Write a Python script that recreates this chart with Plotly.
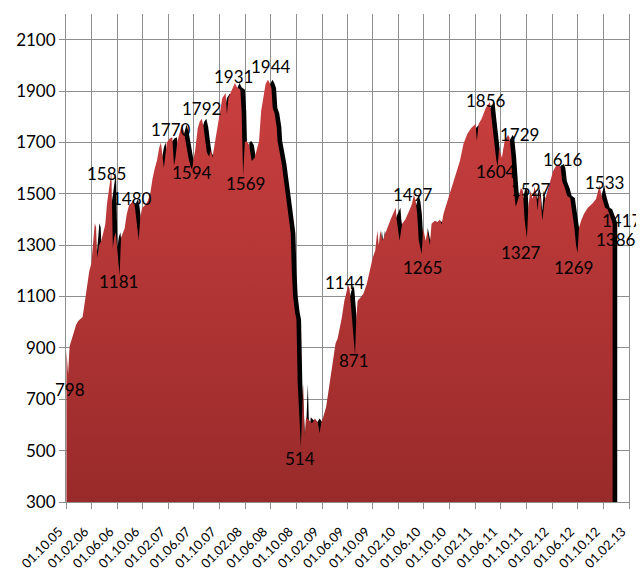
import plotly.graph_objects as go
import pandas as pd

# ---- data ----
dates = [
    "2005-10-03", "2005-10-11", "2005-10-18", "2005-10-28", "2005-11-08", "2005-11-18", "2005-11-28",
    "2005-12-08", "2005-12-19", "2005-12-28", "2006-01-10", "2006-01-20", "2006-01-30", "2006-02-07",
    "2006-02-15", "2006-02-21", "2006-02-27", "2006-03-07", "2006-03-17", "2006-03-28", "2006-04-06",
    "2006-04-14", "2006-04-24", "2006-05-05", "2006-05-12", "2006-05-18", "2006-05-26", "2006-06-06",
    "2006-06-13", "2006-06-20", "2006-06-28", "2006-07-07", "2006-07-17", "2006-07-28", "2006-08-09",
    "2006-08-18", "2006-08-25", "2006-09-05", "2006-09-12", "2006-09-20", "2006-09-28", "2006-10-12",
    "2006-10-24", "2006-11-06", "2006-11-17", "2006-11-28",
    "2006-12-08", "2006-12-19", "2006-12-27", "2007-01-10", "2007-01-16", "2007-01-24", "2007-02-07",
    "2007-02-19", "2007-02-27", "2007-03-06", "2007-03-15", "2007-03-28", "2007-04-06", "2007-04-16",
    "2007-04-26", "2007-05-07", "2007-05-16", "2007-05-24", "2007-06-01", "2007-06-08", "2007-06-20",
    "2007-06-29", "2007-07-09", "2007-07-18", "2007-07-27", "2007-08-03", "2007-08-13", "2007-08-22",
    "2007-08-29", "2007-09-10", "2007-09-20", "2007-10-03", "2007-10-15", "2007-10-31", "2007-11-06",
    "2007-11-13", "2007-11-26", "2007-12-06", "2007-12-14", "2007-12-24", "2008-01-09", "2008-01-15",
    "2008-01-22", "2008-01-30", "2008-02-08", "2008-02-20", "2008-03-03", "2008-03-17", "2008-03-28",
    "2008-04-07", "2008-04-17", "2008-04-29", "2008-05-08", "2008-05-19", "2008-05-28", "2008-06-05",
    "2008-06-11", "2008-06-20", "2008-06-30", "2008-07-04", "2008-07-24", "2008-08-08", "2008-08-20",
    "2008-09-05", "2008-09-10", "2008-09-16", "2008-09-25", "2008-10-02", "2008-10-08", "2008-10-16",
    "2008-10-23", "2008-11-03", "2008-11-10", "2008-11-17", "2008-12-01", "2008-12-15", "2008-12-29",
    "2009-01-12", "2009-01-20", "2009-01-28", "2009-02-06", "2009-02-20", "2009-03-02", "2009-03-13",
    "2009-03-23", "2009-04-06", "2009-04-16", "2009-05-06", "2009-05-18", "2009-05-29", "2009-06-05",
    "2009-06-12", "2009-06-19", "2009-06-30", "2009-07-08", "2009-07-13", "2009-07-20", "2009-08-03",
    "2009-08-17", "2009-09-02", "2009-09-16", "2009-09-30", "2009-10-12", "2009-10-22", "2009-10-29",
    "2009-11-05", "2009-11-16", "2009-12-08", "2009-12-24", "2010-01-05", "2010-01-18", "2010-01-22",
    "2010-02-05", "2010-02-17", "2010-03-04", "2010-03-26", "2010-04-05", "2010-04-14", "2010-04-23",
    "2010-04-30", "2010-05-07", "2010-05-21", "2010-05-28", "2010-06-09", "2010-06-18", "2010-06-29",
    "2010-07-07", "2010-07-23", "2010-08-05", "2010-08-16", "2010-08-24", "2010-09-02", "2010-09-22",
    "2010-10-12", "2010-10-26", "2010-11-19", "2010-12-06", "2010-12-24", "2011-01-12", "2011-02-01",
    "2011-02-08", "2011-02-16", "2011-03-02", "2011-03-22", "2011-04-04", "2011-04-11", "2011-04-18",
    "2011-04-28", "2011-05-10", "2011-05-17", "2011-05-25", "2011-06-07", "2011-06-20", "2011-07-06",
    "2011-07-13", "2011-07-22", "2011-08-03", "2011-08-12", "2011-08-24", "2011-09-05", "2011-09-15",
    "2011-09-23", "2011-10-04", "2011-10-11", "2011-10-20", "2011-11-01", "2011-11-08", "2011-11-17",
    "2011-11-24", "2011-12-01", "2011-12-09", "2011-12-16", "2011-12-27", "2012-01-10", "2012-01-24",
    "2012-02-06", "2012-02-20", "2012-03-06", "2012-03-13", "2012-03-20", "2012-04-03", "2012-04-12",
    "2012-04-27", "2012-05-08", "2012-05-17", "2012-05-25", "2012-06-01", "2012-06-08", "2012-06-20",
    "2012-07-02", "2012-07-20", "2012-08-10", "2012-08-28", "2012-09-14", "2012-09-21", "2012-10-01",
    "2012-10-10", "2012-10-22", "2012-11-01", "2012-11-15",
]
values = [
    890, 798, 905, 930, 960, 990, 1005,
    1012, 1020, 1070, 1150, 1200, 1230, 1320,
    1385, 1370, 1250, 1300, 1315, 1350, 1380,
    1460, 1530, 1585, 1290, 1330, 1350, 1240,
    1181, 1330, 1350, 1365, 1420, 1455, 1465,
    1480, 1450, 1380, 1320, 1410, 1445, 1455,
    1470, 1500, 1560, 1600,
    1630, 1680, 1700, 1600, 1650, 1700, 1715,
    1720, 1610, 1640, 1705, 1740, 1770, 1740,
    1690, 1640, 1610, 1594, 1640, 1670, 1755,
    1780, 1792, 1760, 1700, 1660, 1645, 1670,
    1640, 1700, 1756, 1822, 1873, 1892, 1810,
    1873, 1900, 1915, 1931, 1915, 1905, 1820,
    1569, 1700, 1706, 1690, 1628, 1640, 1680,
    1706, 1822, 1880, 1927, 1944, 1930, 1911,
    1834, 1814, 1760, 1706, 1617, 1523, 1445,
    1345, 1200, 1100, 1040, 1010, 762, 600,
    514, 760, 560, 630, 620, 607, 625,
    610, 568, 610, 630, 669, 723, 785,
    851, 917, 937, 1018, 1084, 1120, 1144,
    1130, 1050, 950, 871, 1000, 1084, 1096,
    1112, 1150, 1201, 1251, 1279, 1356, 1300,
    1356, 1317, 1368, 1400, 1422, 1446, 1400,
    1317, 1383, 1400, 1440, 1461, 1497, 1470,
    1420, 1320, 1265, 1368, 1317, 1356, 1300,
    1383, 1395, 1390, 1400, 1380, 1422, 1473,
    1523, 1562, 1628, 1694, 1733, 1756, 1772,
    1706, 1772, 1791, 1834, 1850, 1856, 1800,
    1720, 1640, 1604, 1678, 1640, 1706, 1729,
    1720, 1650, 1512, 1450, 1480, 1523, 1512,
    1400, 1327, 1450, 1512, 1480, 1527, 1500,
    1434, 1512, 1480, 1395, 1470, 1512, 1550,
    1589, 1609, 1616, 1600, 1550, 1520, 1492,
    1484, 1420, 1368, 1300, 1269, 1368, 1400,
    1422, 1446, 1461, 1480, 1533, 1500, 1470,
    1446, 1440, 1417, 1386,
]

label_dates = [
    "2005-10-20", "2006-04-13", "2006-06-09", "2006-08-10", "2007-02-13", "2007-05-26",
    "2007-07-08", "2007-12-08", "2008-02-04", "2008-06-01", "2008-10-18", "2009-05-19",
    "2009-07-01", "2010-04-12", "2010-05-25", "2011-03-25", "2011-05-10", "2011-08-28",
    "2011-10-25", "2011-09-08", "2012-03-25", "2012-05-12", "2012-10-07", "2012-12-28",
    "2012-12-03",
]
label_values = [
    798, 1585, 1181, 1480, 1770, 1594,
    1792, 1931, 1569, 1944, 514, 1144,
    871, 1497, 1265, 1856, 1604, 1729,
    1527, 1327, 1616, 1269, 1533, 1417,
    1386,
]
label_shift = [
    -15, -2, -6, 0, -5, -3,
    10, 7, -7, 13, -11, 3,
    -5, 0, -13, 2, -4, 0,
    -3, -14, 5, -14, 3, -5,
    -16,
]

tick_dates = [
    "2005-10-01", "2006-02-01", "2006-06-01", "2006-10-01", "2007-02-01", "2007-06-01",
    "2007-10-01", "2008-02-01", "2008-06-01", "2008-10-01", "2009-02-01", "2009-06-01",
    "2009-10-01", "2010-02-01", "2010-06-01", "2010-10-01", "2011-02-01", "2011-06-01",
    "2011-10-01", "2012-02-01", "2012-06-01", "2012-10-01", "2013-02-01",
]
tick_text = [
    "01.10.05", "01.02.06", "01.06.06", "01.10.06", "01.02.07", "01.06.07",
    "01.10.07", "01.02.08", "01.06.08", "01.10.08", "01.02.09", "01.06.09",
    "01.10.09", "01.02.10", "01.06.10", "01.10.10", "01.02.11", "01.06.11",
    "01.10.11", "01.02.12", "01.06.12", "01.10.12", "01.02.13",
]
y_ticks = [300, 500, 700, 900, 1100, 1300, 1500, 1700, 1900, 2100]

FONT = "Lato"
GRID = "#8e8e8e"
SHADOW_DAYS = 22  # shadow offset (style): the black copy sits a few pixels to the right

shadow_x = pd.to_datetime(dates) + pd.Timedelta(days=SHADOW_DAYS)

fig = go.Figure()

# black drop shadow of the area
fig.add_trace(go.Scatter(
    x=shadow_x, y=values, mode="lines", fill="tozeroy",
    line=dict(color="#000000", width=0), fillcolor="#000000",
    hoverinfo="skip", showlegend=False,
))
# red gradient area
fig.add_trace(go.Scatter(
    x=dates, y=values, mode="lines", fill="tozeroy",
    line=dict(color="rgba(0,0,0,0)", width=0),
    fillgradient=dict(type="vertical", start=300, stop=2000,
                      colorscale=[[0, "#992a2a"], [1, "#cc4040"]]),
    showlegend=False,
))

for d, v, s in zip(label_dates, label_values, label_shift):
    fig.add_annotation(x=d, y=v, text=str(v), showarrow=False, yshift=s,
                       font=dict(family=FONT, size=17, color="#000000"))

# the page body adds an 8px offset, so the margins are reduced by 8px on the left/top
fig.update_layout(
    width=644, height=574,
    margin=dict(l=58, r=23, t=6, b=80, autoexpand=False),
    plot_bgcolor="#ffffff", paper_bgcolor="#ffffff",
    showlegend=False,
    xaxis=dict(
        type="date", range=["2005-10-01", "2013-02-01"],
        tickmode="array", tickvals=tick_dates, ticktext=tick_text, tickangle=-45,
        showgrid=True, gridcolor=GRID, gridwidth=1,
        showline=True, linecolor=GRID, linewidth=1,
        ticks="outside", ticklen=6, tickcolor=GRID,
        tickfont=dict(family=FONT, size=13, color="#000000"),
        ticklabelstandoff=10, ticklabelshift=-7,
        zeroline=False, automargin=False,
    ),
    yaxis=dict(
        range=[300, 2200], tickmode="array", tickvals=y_ticks,
        showgrid=True, gridcolor=GRID, gridwidth=1,
        showline=True, linecolor=GRID, linewidth=1, mirror=True,
        ticks="outside", ticklen=6, tickcolor=GRID,
        tickfont=dict(family=FONT, size=17, color="#000000"),
        zeroline=False, automargin=False,
    ),
)

fig.write_html("out.html")
